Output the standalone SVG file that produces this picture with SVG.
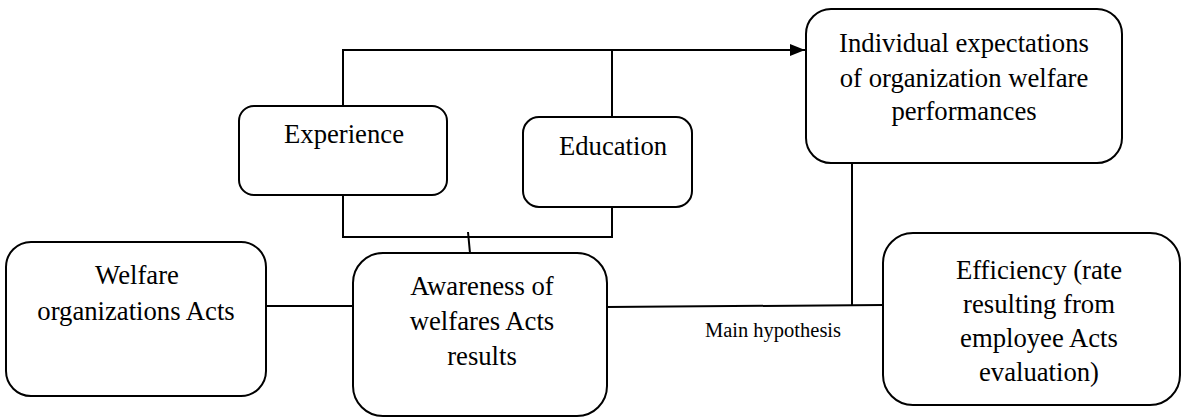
<svg xmlns="http://www.w3.org/2000/svg" width="1182" height="417" viewBox="0 0 1182 417">
<style>
.box{fill:#fff;stroke:#000;stroke-width:2}
.t{font-family:"Liberation Serif","Times New Roman",serif;font-size:26.7px;fill:#000;text-anchor:middle}
.s{font-family:"Liberation Serif","Times New Roman",serif;font-size:20.5px;fill:#000;text-anchor:middle}
.c{fill:none;stroke:#000;stroke-width:2}
</style>
<defs>
<marker id="arr" viewBox="0 0 10 10" refX="10" refY="5" markerWidth="15" markerHeight="12" markerUnits="userSpaceOnUse" orient="auto" preserveAspectRatio="none">
<path d="M0,0 L10,5 L0,10 Z" fill="#000"/>
</marker>
</defs>
<rect width="1182" height="417" fill="#fff"/>
<g id="connectors">
<path class="c" d="M343,106 V50 H805" marker-end="url(#arr)"/>
<path class="c" d="M612,117 V50"/>
<path class="c" d="M343,195 V237 H612 V194"/>
<path class="c" d="M468,232 L470,253"/>
<path class="c" d="M266,306 H353"/>
<path class="c" d="M607,307 L883,305"/>
<path class="c" d="M852,141 V305"/>
</g>
<g id="experience">
<rect class="box" x="239" y="106" width="208" height="89" rx="15"/>
<text class="t" x="344" y="143">Experience</text>
</g>
<g id="education">
<rect class="box" x="523" y="117" width="169" height="90" rx="16"/>
<text class="t" x="613" y="155">Education</text>
</g>
<g id="individual">
<rect class="box" x="806" y="9" width="316" height="154" rx="25"/>
<text class="t" x="964" y="52">Individual expectations</text>
<text class="t" x="964" y="87">of organization welfare</text>
<text class="t" x="964" y="120">performances</text>
</g>
<g id="welfare">
<rect class="box" x="6" y="242" width="260" height="154" rx="25"/>
<text class="t" x="137" y="284">Welfare</text>
<text class="t" x="136" y="320">organizations Acts</text>
</g>
<g id="awareness">
<rect class="box" x="353" y="253" width="254" height="163" rx="30"/>
<text class="t" x="482" y="295">Awareness of</text>
<text class="t" x="482" y="330">welfares Acts</text>
<text class="t" x="482" y="365">results</text>
</g>
<g id="efficiency">
<rect class="box" x="883" y="233" width="297" height="172" rx="30"/>
<text class="t" x="1039" y="279">Efficiency (rate</text>
<text class="t" x="1039" y="313">resulting from</text>
<text class="t" x="1039" y="347">employee Acts</text>
<text class="t" x="1039" y="381">evaluation)</text>
</g>
<g id="label">
<text class="s" x="773" y="337">Main hypothesis</text>
</g>
</svg>
